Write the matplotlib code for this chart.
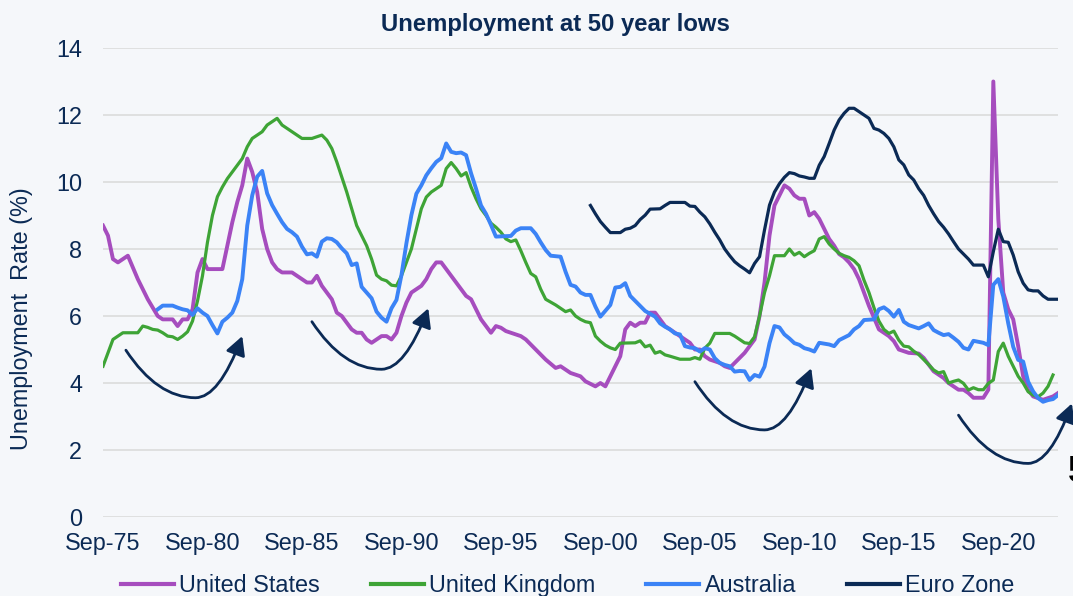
import matplotlib
matplotlib.use("Agg")
import matplotlib.pyplot as plt
from matplotlib.path import Path
from matplotlib.patches import FancyArrowPatch, ArrowStyle

plt.rcParams['font.family'] = ['Liberation Sans', 'DejaVu Sans']

# quarterly readings, x = decimal year (Sep = .75, Dec = 1.0)
us_x = [1975.75, 1976.0, 1976.25, 1976.5, 1977.0, 1977.5, 1977.75, 1978.0, 1978.5, 1978.75,
        1979.25, 1979.5, 1979.75, 1980.0, 1980.25, 1980.5, 1980.75, 1981.0, 1981.75, 1982.0,
        1982.25, 1982.5, 1982.75, 1983.0, 1983.25, 1983.5, 1983.75, 1984.0, 1984.25, 1984.5,
        1984.75, 1985.25, 1985.5, 1985.75, 1986.0, 1986.25, 1986.5, 1986.75, 1987.0, 1987.25,
        1987.5, 1987.75, 1988.0, 1988.25, 1988.5, 1988.75, 1989.0, 1989.25, 1989.5, 1989.75,
        1990.0, 1990.25, 1990.5, 1990.75, 1991.0, 1991.25, 1991.5, 1991.75, 1992.0, 1992.25,
        1992.5, 1992.75, 1993.0, 1993.25, 1993.5, 1993.75, 1994.0, 1994.25, 1994.5, 1994.75,
        1995.0, 1995.25, 1995.5, 1995.75, 1996.0, 1996.25, 1996.75, 1997.0, 1997.5, 1998.0,
        1998.5, 1998.75, 1999.25, 1999.75, 2000.0, 2000.5, 2000.75, 2001.0, 2001.25, 2001.5,
        2001.75, 2002.0, 2002.25, 2002.5, 2002.75, 2003.0, 2003.25, 2003.5, 2003.75, 2004.0,
        2004.25, 2004.5, 2004.75, 2005.0, 2005.25, 2005.5, 2005.75, 2006.0, 2006.25, 2006.75,
        2007.0, 2007.25, 2007.5, 2007.75, 2008.0, 2008.25, 2008.5, 2008.75, 2009.0, 2009.25,
        2009.5, 2009.75, 2010.0, 2010.25, 2010.5, 2010.75, 2011.0, 2011.25, 2011.5, 2011.75,
        2012.0, 2012.25, 2012.5, 2012.75, 2013.0, 2013.25, 2013.5, 2013.75, 2014.0, 2014.25,
        2014.5, 2014.75, 2015.0, 2015.25, 2015.5, 2015.75, 2016.0, 2016.25, 2016.75, 2017.0,
        2017.25, 2017.5, 2017.75, 2018.0, 2018.25, 2018.5, 2018.75, 2019.0, 2019.25, 2019.5,
        2019.75, 2020.0, 2020.25, 2020.5, 2020.75, 2021.0, 2021.25, 2021.5, 2021.75, 2022.0,
        2022.25, 2022.5, 2022.75, 2023.0, 2023.25, 2023.5, 2023.75]
us_rate = [8.7, 8.4, 7.7, 7.6, 7.8, 7.1, 6.8, 6.5, 6.0, 5.9,
           5.9, 5.7, 5.9, 5.9, 6.2, 7.3, 7.7, 7.4, 7.4, 8.1,
           8.8, 9.4, 9.9, 10.7, 10.3, 9.7, 8.6, 8.0, 7.6, 7.4,
           7.3, 7.3, 7.2, 7.1, 7.0, 7.0, 7.2, 6.9, 6.7, 6.5,
           6.1, 6.0, 5.8, 5.6, 5.5, 5.5, 5.3, 5.2, 5.3, 5.4,
           5.4, 5.3, 5.5, 6.0, 6.4, 6.7, 6.8, 6.9, 7.1, 7.4,
           7.6, 7.6, 7.4, 7.2, 7.0, 6.8, 6.6, 6.5, 6.2, 5.9,
           5.7, 5.5, 5.7, 5.65, 5.55, 5.5, 5.4, 5.3, 5.0, 4.7,
           4.45, 4.5, 4.3, 4.2, 4.05, 3.9, 4.0, 3.9, 4.2, 4.5,
           4.8, 5.6, 5.8, 5.7, 5.8, 5.8, 6.1, 6.1, 5.9, 5.7,
           5.6, 5.5, 5.4, 5.3, 5.2, 5.0, 5.0, 4.8, 4.7, 4.6,
           4.5, 4.45, 4.6, 4.75, 4.9, 5.1, 5.3, 6.0, 7.0, 8.4,
           9.3, 9.6, 9.9, 9.8, 9.6, 9.5, 9.5, 9.0, 9.1, 8.9,
           8.6, 8.3, 8.1, 7.85, 7.75, 7.6, 7.4, 7.1, 6.7, 6.3,
           5.95, 5.6, 5.5, 5.4, 5.25, 5.0, 4.95, 4.9, 4.88, 4.75,
           4.55, 4.35, 4.25, 4.15, 4.0, 3.9, 3.8, 3.8, 3.7, 3.56,
           3.56, 3.56, 3.8, 13.0, 8.9, 6.7, 6.2, 5.9, 5.1, 4.2,
           3.8, 3.6, 3.55, 3.5, 3.55, 3.6, 3.7]

uk_x = [1975.75, 1976.0, 1976.25, 1976.5, 1976.75, 1977.5, 1977.75, 1978.0, 1978.25, 1978.5,
        1978.75, 1979.0, 1979.25, 1979.5, 1979.75, 1980.0, 1980.25, 1980.5, 1980.75, 1981.0,
        1981.25, 1981.5, 1981.75, 1982.0, 1982.25, 1982.5, 1982.75, 1983.0, 1983.25, 1983.5,
        1983.75, 1984.0, 1984.25, 1984.5, 1984.75, 1985.0, 1985.25, 1985.5, 1985.75, 1986.25,
        1986.75, 1987.0, 1987.25, 1987.5, 1987.75, 1988.0, 1988.25, 1988.5, 1988.75, 1989.0,
        1989.25, 1989.5, 1989.75, 1990.0, 1990.25, 1990.5, 1990.75, 1991.0, 1991.25, 1991.5,
        1991.75, 1992.0, 1992.25, 1992.5, 1992.75, 1993.0, 1993.25, 1993.5, 1993.75, 1994.0,
        1994.25, 1994.5, 1994.75, 1995.0, 1995.25, 1995.5, 1995.75, 1996.0, 1996.25, 1996.5,
        1996.75, 1997.0, 1997.25, 1997.5, 1997.75, 1998.0, 1998.5, 1999.0, 1999.25, 1999.5,
        1999.75, 2000.0, 2000.25, 2000.5, 2000.75, 2001.0, 2001.25, 2001.5, 2001.75, 2002.5,
        2002.75, 2003.0, 2003.25, 2003.5, 2003.75, 2004.0, 2004.25, 2004.75, 2005.25, 2005.5,
        2005.75, 2006.0, 2006.25, 2006.5, 2007.25, 2007.5, 2007.75, 2008.0, 2008.25, 2008.5,
        2008.75, 2009.0, 2009.25, 2009.5, 2009.75, 2010.0, 2010.25, 2010.5, 2010.75, 2011.0,
        2011.25, 2011.5, 2011.75, 2012.0, 2012.25, 2012.5, 2012.75, 2013.0, 2013.25, 2013.5,
        2013.75, 2014.0, 2014.25, 2014.5, 2014.75, 2015.0, 2015.25, 2015.5, 2015.75, 2016.0,
        2016.25, 2016.5, 2016.75, 2017.0, 2017.25, 2017.5, 2017.75, 2018.0, 2018.25, 2018.5,
        2018.75, 2019.0, 2019.25, 2019.5, 2019.75, 2020.0, 2020.25, 2020.5, 2020.75, 2021.0,
        2021.25, 2021.5, 2021.75, 2022.0, 2022.25, 2022.5, 2022.75, 2023.0, 2023.25, 2023.5]
uk_rate = [4.5, 4.9, 5.3, 5.4, 5.5, 5.5, 5.7, 5.66, 5.6, 5.58,
           5.5, 5.4, 5.38, 5.3, 5.4, 5.53, 5.85, 6.45, 7.2, 8.2,
           9.0, 9.56, 9.85, 10.1, 10.3, 10.5, 10.7, 11.05, 11.3, 11.4,
           11.5, 11.7, 11.8, 11.9, 11.7, 11.6, 11.5, 11.4, 11.3, 11.3,
           11.4, 11.25, 11.0, 10.6, 10.15, 9.7, 9.2, 8.7, 8.4, 8.1,
           7.7, 7.22, 7.1, 7.05, 6.92, 6.9, 7.2, 7.6, 8.0, 8.6,
           9.2, 9.55, 9.7, 9.8, 9.9, 10.4, 10.58, 10.4, 10.18, 10.28,
           9.85, 9.5, 9.2, 9.0, 8.77, 8.65, 8.5, 8.3, 8.22, 8.27,
           7.95, 7.6, 7.27, 7.17, 6.8, 6.5, 6.33, 6.13, 6.18, 6.0,
           5.9, 5.83, 5.8, 5.4, 5.25, 5.13, 5.05, 5.0, 5.19, 5.2,
           5.26, 5.08, 5.13, 4.89, 4.94, 4.84, 4.8, 4.71, 4.71, 4.76,
           4.71, 5.04, 5.19, 5.48, 5.48, 5.4, 5.3, 5.2, 5.18, 5.38,
           6.0, 6.7, 7.2, 7.8, 7.8, 7.8, 8.0, 7.82, 7.9, 7.77,
           7.87, 7.95, 8.3, 8.37, 8.15, 8.0, 7.87, 7.8, 7.75, 7.65,
           7.5, 7.07, 6.7, 6.25, 5.85, 5.6, 5.48, 5.55, 5.28, 5.1,
           5.08, 4.95, 4.85, 4.7, 4.55, 4.39, 4.3, 4.34, 4.0, 4.05,
           4.09, 3.99, 3.79, 3.86, 3.8, 3.8, 3.99, 4.09, 4.94, 5.19,
           4.8, 4.5, 4.2, 4.0, 3.74, 3.64, 3.59, 3.7, 3.9, 4.24]

au_x = [1978.5, 1978.75, 1979.0, 1979.25, 1979.5, 1979.75, 1980.0, 1980.25, 1980.5, 1980.75,
        1981.0, 1981.25, 1981.5, 1981.75, 1982.0, 1982.25, 1982.5, 1982.75, 1983.0, 1983.25,
        1983.5, 1983.75, 1984.0, 1984.25, 1984.5, 1984.75, 1985.0, 1985.25, 1985.5, 1985.75,
        1986.0, 1986.25, 1986.5, 1986.75, 1987.0, 1987.25, 1987.5, 1987.75, 1988.0, 1988.25,
        1988.5, 1988.75, 1989.0, 1989.25, 1989.5, 1989.75, 1990.0, 1990.25, 1990.5, 1990.75,
        1991.0, 1991.25, 1991.5, 1991.75, 1992.0, 1992.25, 1992.5, 1992.75, 1993.0, 1993.25,
        1993.5, 1993.75, 1994.0, 1994.25, 1994.5, 1994.75, 1995.0, 1995.25, 1995.5, 1996.25,
        1996.5, 1996.75, 1997.25, 1997.5, 1997.75, 1998.0, 1998.25, 1998.75, 1999.0, 1999.25,
        1999.5, 1999.75, 2000.0, 2000.25, 2000.5, 2000.75, 2001.25, 2001.5, 2001.75, 2002.0,
        2002.25, 2002.5, 2002.75, 2003.0, 2003.5, 2003.75, 2004.0, 2004.25, 2004.5, 2004.75,
        2005.0, 2005.25, 2005.5, 2005.75, 2006.0, 2006.25, 2006.5, 2006.75, 2007.0, 2007.25,
        2007.5, 2007.75, 2008.0, 2008.25, 2008.5, 2008.75, 2009.0, 2009.25, 2009.5, 2009.75,
        2010.0, 2010.25, 2010.5, 2010.75, 2011.0, 2011.25, 2011.5, 2011.75, 2012.25, 2012.5,
        2012.75, 2013.25, 2013.5, 2013.75, 2014.0, 2014.5, 2014.75, 2015.0, 2015.25, 2015.5,
        2015.75, 2016.0, 2016.25, 2016.75, 2017.0, 2017.25, 2017.5, 2017.75, 2018.0, 2018.25,
        2018.5, 2018.75, 2019.0, 2019.25, 2019.5, 2019.75, 2020.0, 2020.25, 2020.5, 2020.75,
        2021.0, 2021.25, 2021.5, 2021.75, 2022.0, 2022.25, 2022.5, 2022.75, 2023.0, 2023.25,
        2023.5, 2023.75]
au_rate = [6.2, 6.31, 6.31, 6.31, 6.25, 6.2, 6.17, 6.03, 6.23, 6.1,
           6.0, 5.73, 5.48, 5.83, 5.95, 6.1, 6.45, 7.1, 8.7, 9.6,
           10.16, 10.33, 9.66, 9.31, 9.05, 8.8, 8.6, 8.5, 8.37, 8.07,
           7.84, 7.87, 7.77, 8.22, 8.32, 8.3, 8.2, 8.02, 7.87, 7.52,
           7.57, 6.87, 6.7, 6.53, 6.13, 5.95, 5.83, 6.23, 6.48, 7.22,
           8.17, 9.01, 9.65, 9.9, 10.2, 10.41, 10.6, 10.71, 11.15, 10.9,
           10.86, 10.88, 10.8, 10.26, 9.8, 9.3, 9.05, 8.72, 8.37, 8.39,
           8.55, 8.62, 8.62, 8.45, 8.2, 7.97, 7.8, 7.77, 7.32, 6.93,
           6.88, 6.7, 6.63, 6.63, 6.28, 5.98, 6.33, 6.85, 6.87, 6.98,
           6.6, 6.45, 6.3, 6.15, 5.98, 5.78, 5.68, 5.6, 5.48, 5.45,
           5.1, 5.06, 5.04, 4.94, 5.04, 5.0, 4.74, 4.6, 4.54, 4.5,
           4.34, 4.36, 4.35, 4.09, 4.24, 4.19, 4.49, 5.19, 5.7, 5.66,
           5.45, 5.33, 5.19, 5.14, 5.04, 5.0, 4.94, 5.2, 5.15, 5.1,
           5.28, 5.43, 5.6, 5.7, 5.88, 5.9, 6.2, 6.26, 6.15, 5.98,
           6.18, 5.83, 5.73, 5.63, 5.7, 5.78, 5.58, 5.5, 5.43, 5.46,
           5.35, 5.23, 5.05, 5.0, 5.26, 5.23, 5.2, 5.13, 6.93, 7.1,
           6.58, 5.78, 5.08, 4.69, 4.64, 4.04, 3.75, 3.55, 3.44, 3.49,
           3.52, 3.64]

ez_x = [2000.25, 2000.5, 2000.75, 2001.0, 2001.25, 2001.75, 2002.0, 2002.25, 2002.5, 2002.75,
        2003.0, 2003.25, 2003.75, 2004.0, 2004.25, 2005.0, 2005.25, 2005.5, 2005.75, 2006.0,
        2006.25, 2006.5, 2006.75, 2007.0, 2007.25, 2007.5, 2007.75, 2008.0, 2008.25, 2008.5,
        2008.75, 2009.0, 2009.25, 2009.5, 2009.75, 2010.0, 2010.25, 2010.5, 2010.75, 2011.0,
        2011.25, 2011.5, 2011.75, 2012.0, 2012.25, 2012.5, 2012.75, 2013.0, 2013.25, 2013.5,
        2013.75, 2014.0, 2014.25, 2014.5, 2014.75, 2015.0, 2015.25, 2015.5, 2015.75, 2016.0,
        2016.25, 2016.5, 2016.75, 2017.0, 2017.25, 2017.5, 2017.75, 2018.0, 2018.25, 2018.5,
        2018.75, 2019.0, 2019.25, 2019.5, 2019.75, 2020.0, 2020.25, 2020.5, 2020.75, 2021.0,
        2021.25, 2021.5, 2021.75, 2022.0, 2022.25, 2022.5, 2022.75, 2023.0, 2023.25, 2023.5,
        2023.75]
ez_rate = [9.3, 9.05, 8.82, 8.65, 8.49, 8.49, 8.59, 8.62, 8.7, 8.88,
           9.01, 9.19, 9.2, 9.3, 9.39, 9.39, 9.28, 9.27, 9.1, 8.96,
           8.75, 8.5, 8.27, 8.0, 7.8, 7.62, 7.5, 7.4, 7.29, 7.57,
           7.77, 8.57, 9.31, 9.7, 9.95, 10.14, 10.28, 10.25, 10.18, 10.15,
           10.11, 10.11, 10.5, 10.76, 11.15, 11.55, 11.85, 12.05, 12.2, 12.2,
           12.1, 12.0, 11.9, 11.6, 11.55, 11.45, 11.3, 11.05, 10.66, 10.51,
           10.21, 10.06, 9.8, 9.6, 9.3, 9.05, 8.82, 8.65, 8.45, 8.22,
           8.0, 7.85, 7.7, 7.52, 7.52, 7.52, 7.17, 7.92, 8.59, 8.22,
           8.2, 7.82, 7.32, 6.98, 6.78, 6.75, 6.75, 6.6, 6.5, 6.5,
           6.5]

tick_pos = [1975.75, 1980.75, 1985.75, 1990.75, 1995.75, 2000.75, 2005.75, 2010.75, 2015.75, 2020.75]
tick_labels = ['Sep-75', 'Sep-80', 'Sep-85', 'Sep-90', 'Sep-95', 'Sep-00', 'Sep-05', 'Sep-10', 'Sep-15', 'Sep-20']

# hand drawn swoosh arrows: start, lowest point, tip
arrow_start = [(1976.9, 4.98), (1986.25, 5.83), (2005.5, 4.04), (2018.75, 3.04)]
arrow_low = [(1980.4, 3.56), (1989.75, 4.41), (2009.0, 2.60), (2022.25, 1.60)]
arrow_tip = [(1982.75, 5.40), (1992.1, 6.23), (2011.35, 4.44), (2024.45, 3.39)]

navy = '#0B2A55'
bg = '#F5F7FA'
fs = 16.8

fig = plt.figure(figsize=(10.73, 5.96), dpi=100, facecolor=bg)
ax = fig.add_axes([0.096, 0.1325, 0.890, 0.787], facecolor=bg)

ax.plot(us_x, us_rate, color='#A64DBE', lw=2.8, label='United States', solid_joinstyle='round')
ax.plot(uk_x, uk_rate, color='#3EA436', lw=2.3, label='United Kingdom', solid_joinstyle='round')
ax.plot(au_x, au_rate, color='#3B83F6', lw=2.8, label='Australia', solid_joinstyle='round')
ax.plot(ez_x, ez_rate, color=navy, lw=2.3, label='Euro Zone', solid_joinstyle='round')

# arrows as two joined quadratic curves
style = ArrowStyle('-|>', head_length=0.75, head_width=0.4)
for s, b, t in zip(arrow_start, arrow_low, arrow_tip):
    c1 = (s[0] + 0.45 * (b[0] - s[0]), b[1])
    c2 = (b[0] + 0.5 * (t[0] - b[0]), b[1])
    path = Path([s, c1, b, c2, t], [Path.MOVETO, Path.CURVE3, Path.CURVE3, Path.CURVE3, Path.CURVE3])
    arr = FancyArrowPatch(path=path, arrowstyle=style, mutation_scale=15, color=navy,
                          lw=2.0, shrinkA=0, shrinkB=0, transform=ax.transData, clip_on=False)
    ax.add_patch(arr)

ax.set_xlim(1975.75, 2023.75)
ax.set_ylim(0, 14)
ax.set_yticks(range(0, 15, 2))
ax.set_xticks(tick_pos)
ax.set_xticklabels(tick_labels)
ax.grid(axis='y', color='#D9D9D9', lw=1.1)
ax.set_axisbelow(True)
for sp in ax.spines.values():
    sp.set_visible(False)
ax.tick_params(axis='both', length=0, labelsize=fs, labelcolor=navy)
ax.tick_params(axis='y', pad=15)
ax.tick_params(axis='x', pad=11)

ax.set_ylabel('Unemployment  Rate (%)', fontsize=fs, color=navy)
ax.yaxis.set_label_coords(-0.073, 0.423)

fig.text(0.518, 0.948, 'Unemployment at 50 year lows', ha='center', va='baseline',
         fontsize=17.2, fontweight='bold', color=navy)

leg = fig.legend(loc='center', bbox_to_anchor=(0.529, 0.0168), ncol=4, frameon=False,
                 fontsize=fs, handlelength=2.27, handletextpad=0.22, columnspacing=2.2,
                 labelcolor=navy)
for h in leg.get_lines():
    h.set_linewidth(3.0)

# stray clipped glyph at the right margin
fig.text(0.9955, 0.208, '5', ha='left', va='center', fontsize=26, fontweight='bold', color='black')

fig.savefig('out.png', dpi=100, facecolor=bg)
